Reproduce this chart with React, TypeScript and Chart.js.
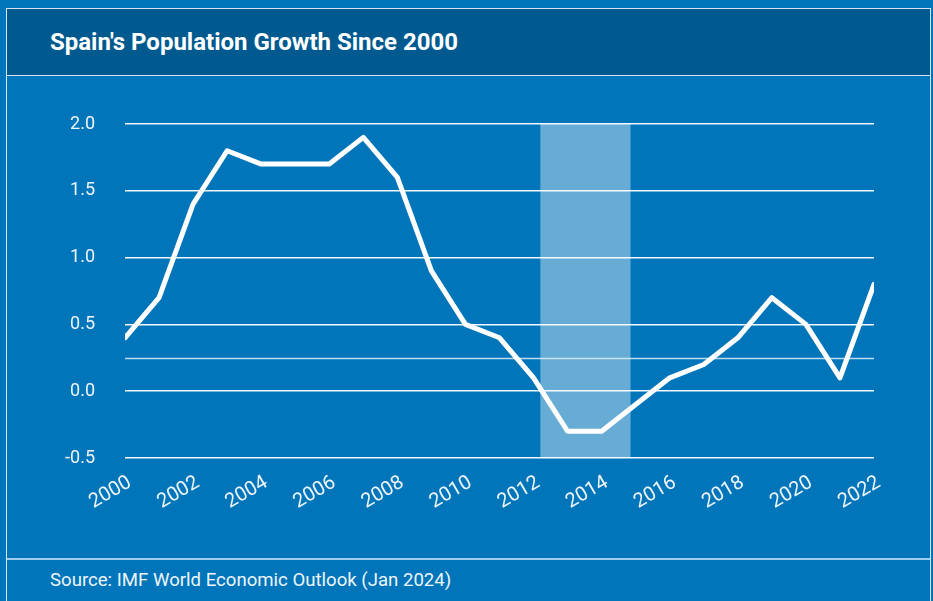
import { useEffect, useRef } from "react";
import { Chart, registerables } from "chart.js";

Chart.register(...registerables);

const title = "Spain's Population Growth Since 2000";
const source = "Source: IMF World Economic Outlook (Jan 2024)";

const years = [2000, 2001, 2002, 2003, 2004, 2005, 2006, 2007, 2008, 2009, 2010, 2011, 2012, 2013, 2014, 2015, 2016, 2017, 2018, 2019, 2020, 2021, 2022];
const growth = [0.4, 0.7, 1.4, 1.8, 1.7, 1.7, 1.7, 1.9, 1.6, 0.9, 0.5, 0.4, 0.1, -0.3, -0.3, -0.1, 0.1, 0.2, 0.4, 0.7, 0.5, 0.1, 0.8];

const yMin = -0.5;
const yMax = 2.0;
const yStep = 0.5;
const xStep = 2;

const shadeStart = 2012.2;
const shadeEnd = 2014.85;
const refLineValue = 0.25;

const FONT = "Roboto, 'Noto Sans', Arial, sans-serif";

export default function App() {
  const canvasRef = useRef<HTMLCanvasElement | null>(null);

  useEffect(() => {
    const canvas = canvasRef.current;
    if (!canvas) return;

    const overlay = {
      id: "overlay",
      beforeDatasetsDraw(chart: any) {
        const { ctx, chartArea, scales } = chart;
        const x = scales.x;
        const y = scales.y;
        ctx.save();
        const x0 = x.getPixelForValue(shadeStart);
        const x1 = x.getPixelForValue(shadeEnd);
        const yt = y.getPixelForValue(yMax);
        const yb = y.getPixelForValue(yMin);
        ctx.fillStyle = "rgba(255,255,255,0.4)";
        ctx.fillRect(x0, yt, x1 - x0, yb - yt);
        const yr = Math.round(y.getPixelForValue(refLineValue)) + 0.5;
        ctx.strokeStyle = "rgba(220,238,250,0.85)";
        ctx.lineWidth = 1.5;
        ctx.beginPath();
        ctx.moveTo(chartArea.left, yr);
        ctx.lineTo(chartArea.right, yr);
        ctx.stroke();
        ctx.restore();
      },
    };

    const chart = new Chart(canvas, {
      type: "line",
      data: {
        datasets: [
          {
            data: years.map((yr, i) => ({ x: yr, y: growth[i] })),
            borderColor: "#ffffff",
            borderWidth: 5,
            pointRadius: 0,
            tension: 0,
            borderCapStyle: "round",
            borderJoinStyle: "round",
            fill: false,
          },
        ],
      },
      options: {
        responsive: false,
        animation: false,
        layout: { padding: { left: 65, right: 59, top: 124, bottom: 83 } },
        plugins: {
          legend: { display: false },
          title: { display: false },
          tooltip: { enabled: false },
        },
        scales: {
          x: {
            type: "linear",
            min: years[0],
            max: years[years.length - 1],
            afterFit: (s: any) => {
              s.height = 60;
            },
            grid: { display: false, drawTicks: false },
            border: { display: false },
            ticks: {
              stepSize: xStep,
              minRotation: 30,
              maxRotation: 30,
              padding: 13,
              labelOffset: 5,
              color: "#eef5fb",
              font: { family: FONT, size: 20 },
              callback: (v: any) => String(v),
            },
          },
          y: {
            min: yMin,
            max: yMax,
            afterFit: (s: any) => {
              s.width = 60;
            },
            grid: { color: "rgba(255,255,255,0.95)", lineWidth: 1.5, drawTicks: false },
            border: { display: false },
            ticks: {
              stepSize: yStep,
              padding: 30,
              color: "#eef5fb",
              font: { family: FONT, size: 18 },
              callback: (v: any) => Number(v).toFixed(1),
            },
          },
        },
      },
      plugins: [overlay],
    });

    return () => chart.destroy();
  }, []);

  return (
    <div
      style={{
        position: "absolute",
        left: 0,
        top: 0,
        width: 933,
        height: 601,
        overflow: "hidden",
        background: "#0075BA",
        fontFamily: FONT,
      }}
    >
      <div
        style={{
          position: "absolute",
          left: 6,
          top: 8,
          width: 923,
          height: 620,
          borderLeft: "1px solid #d6e6f2",
          borderRight: "1px solid #d6e6f2",
          borderTop: "1px solid #d6e6f2",
        }}
      />
      <div
        style={{
          position: "absolute",
          left: 7,
          top: 9,
          width: 923,
          height: 66,
          background: "#005A8F",
          borderBottom: "1px solid #d6e6f2",
        }}
      />
      <div
        style={{
          position: "absolute",
          left: 50,
          top: 27,
          color: "#ffffff",
          fontWeight: 700,
          fontSize: 24,
          lineHeight: "30px",
          whiteSpace: "nowrap",
        }}
      >
        {title}
      </div>
      <div
        style={{
          position: "absolute",
          left: 7,
          top: 558,
          width: 923,
          height: 2,
          background: "#9fcdeb",
        }}
      />
      <div
        style={{
          position: "absolute",
          left: 50,
          top: 568,
          color: "#eef5fb",
          fontSize: 18.6,
          lineHeight: "24px",
          whiteSpace: "nowrap",
        }}
      >
        {source}
      </div>
      <canvas
        ref={canvasRef}
        width={933}
        height={601}
        style={{ position: "absolute", left: 0, top: 0, width: 933, height: 601 }}
      />
    </div>
  );
}
